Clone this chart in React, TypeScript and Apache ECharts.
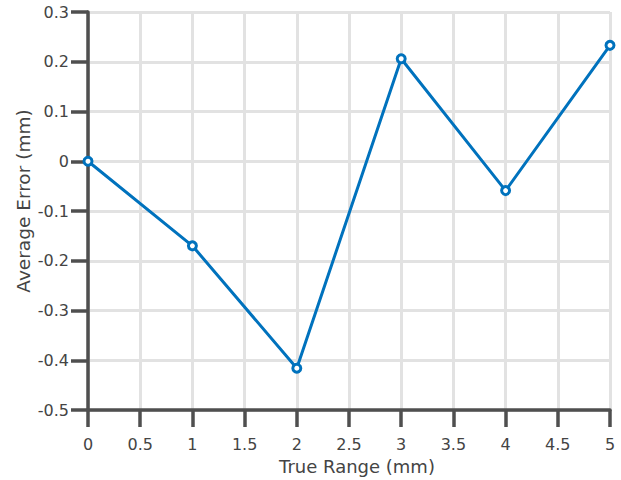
import React, { useEffect, useRef } from "react";
import * as echarts from "echarts";

const trueRange = [0, 1, 2, 3, 4, 5];
const averageError = [0, -0.17, -0.416, 0.206, -0.059, 0.233];

const textColor = "#444444";
const axisColor = "#4f4f4f";
const gridColor = "#e2e2e2";
const lineColor = "#0072bd";
const font = "Verdana, 'DejaVu Sans', sans-serif";

export default function App() {
  const ref = useRef<HTMLDivElement>(null);

  useEffect(() => {
    if (!ref.current) return;
    const chart = echarts.init(ref.current, undefined, { renderer: "svg" });
    chart.setOption({
      animation: false,
      backgroundColor: "#ffffff",
      grid: { left: 88, right: 11, top: 12, bottom: 70 },
      xAxis: {
        type: "value",
        min: 0,
        max: 5,
        interval: 0.5,
        name: "True Range (mm)",
        nameLocation: "middle",
        nameGap: 47,
        nameMoveOverlap: false,
        nameTextStyle: {
          color: textColor,
          fontSize: 18,
          fontFamily: font,
          padding: [0, 0, 0, 16],
        },
        axisLine: { show: true, onZero: false, lineStyle: { color: axisColor, width: 3.5 } },
        axisTick: { show: true, length: 17, lineStyle: { color: axisColor, width: 3.5 } },
        axisLabel: { color: textColor, fontSize: 16, fontFamily: font, margin: 26 },
        splitLine: { show: true, lineStyle: { color: gridColor, width: 3 } },
      },
      yAxis: {
        type: "value",
        min: -0.5,
        max: 0.3,
        interval: 0.1,
        name: "Average Error (mm)",
        nameLocation: "middle",
        nameGap: 55,
        nameMoveOverlap: false,
        nameTextStyle: {
          color: textColor,
          fontSize: 18.5,
          fontFamily: font,
          padding: [0, 0, 0, 20],
        },
        axisLine: { show: true, onZero: false, lineStyle: { color: axisColor, width: 3.5 } },
        axisTick: { show: true, length: 17, lineStyle: { color: axisColor, width: 3.5 } },
        axisLabel: {
          color: textColor,
          fontSize: 16,
          fontFamily: font,
          margin: 19,
          formatter: (v: number) => {
            const r = Math.round(v * 10) / 10;
            return r === 0 ? "0" : r.toFixed(1);
          },
        },
        splitLine: { show: true, lineStyle: { color: gridColor, width: 3 } },
      },
      series: [
        {
          type: "line",
          data: trueRange.map((x, i) => [x, averageError[i]]),
          lineStyle: { color: lineColor, width: 3 },
          itemStyle: { color: "#ffffff", borderColor: lineColor, borderWidth: 3 },
          symbol: "circle",
          symbolSize: 8,
          showSymbol: true,
          z: 5,
        },
      ],
    });
    return () => chart.dispose();
  }, []);

  return (
    <div
      ref={ref}
      style={{ position: "fixed", left: 0, top: 0, width: 621, height: 480 }}
    />
  );
}
